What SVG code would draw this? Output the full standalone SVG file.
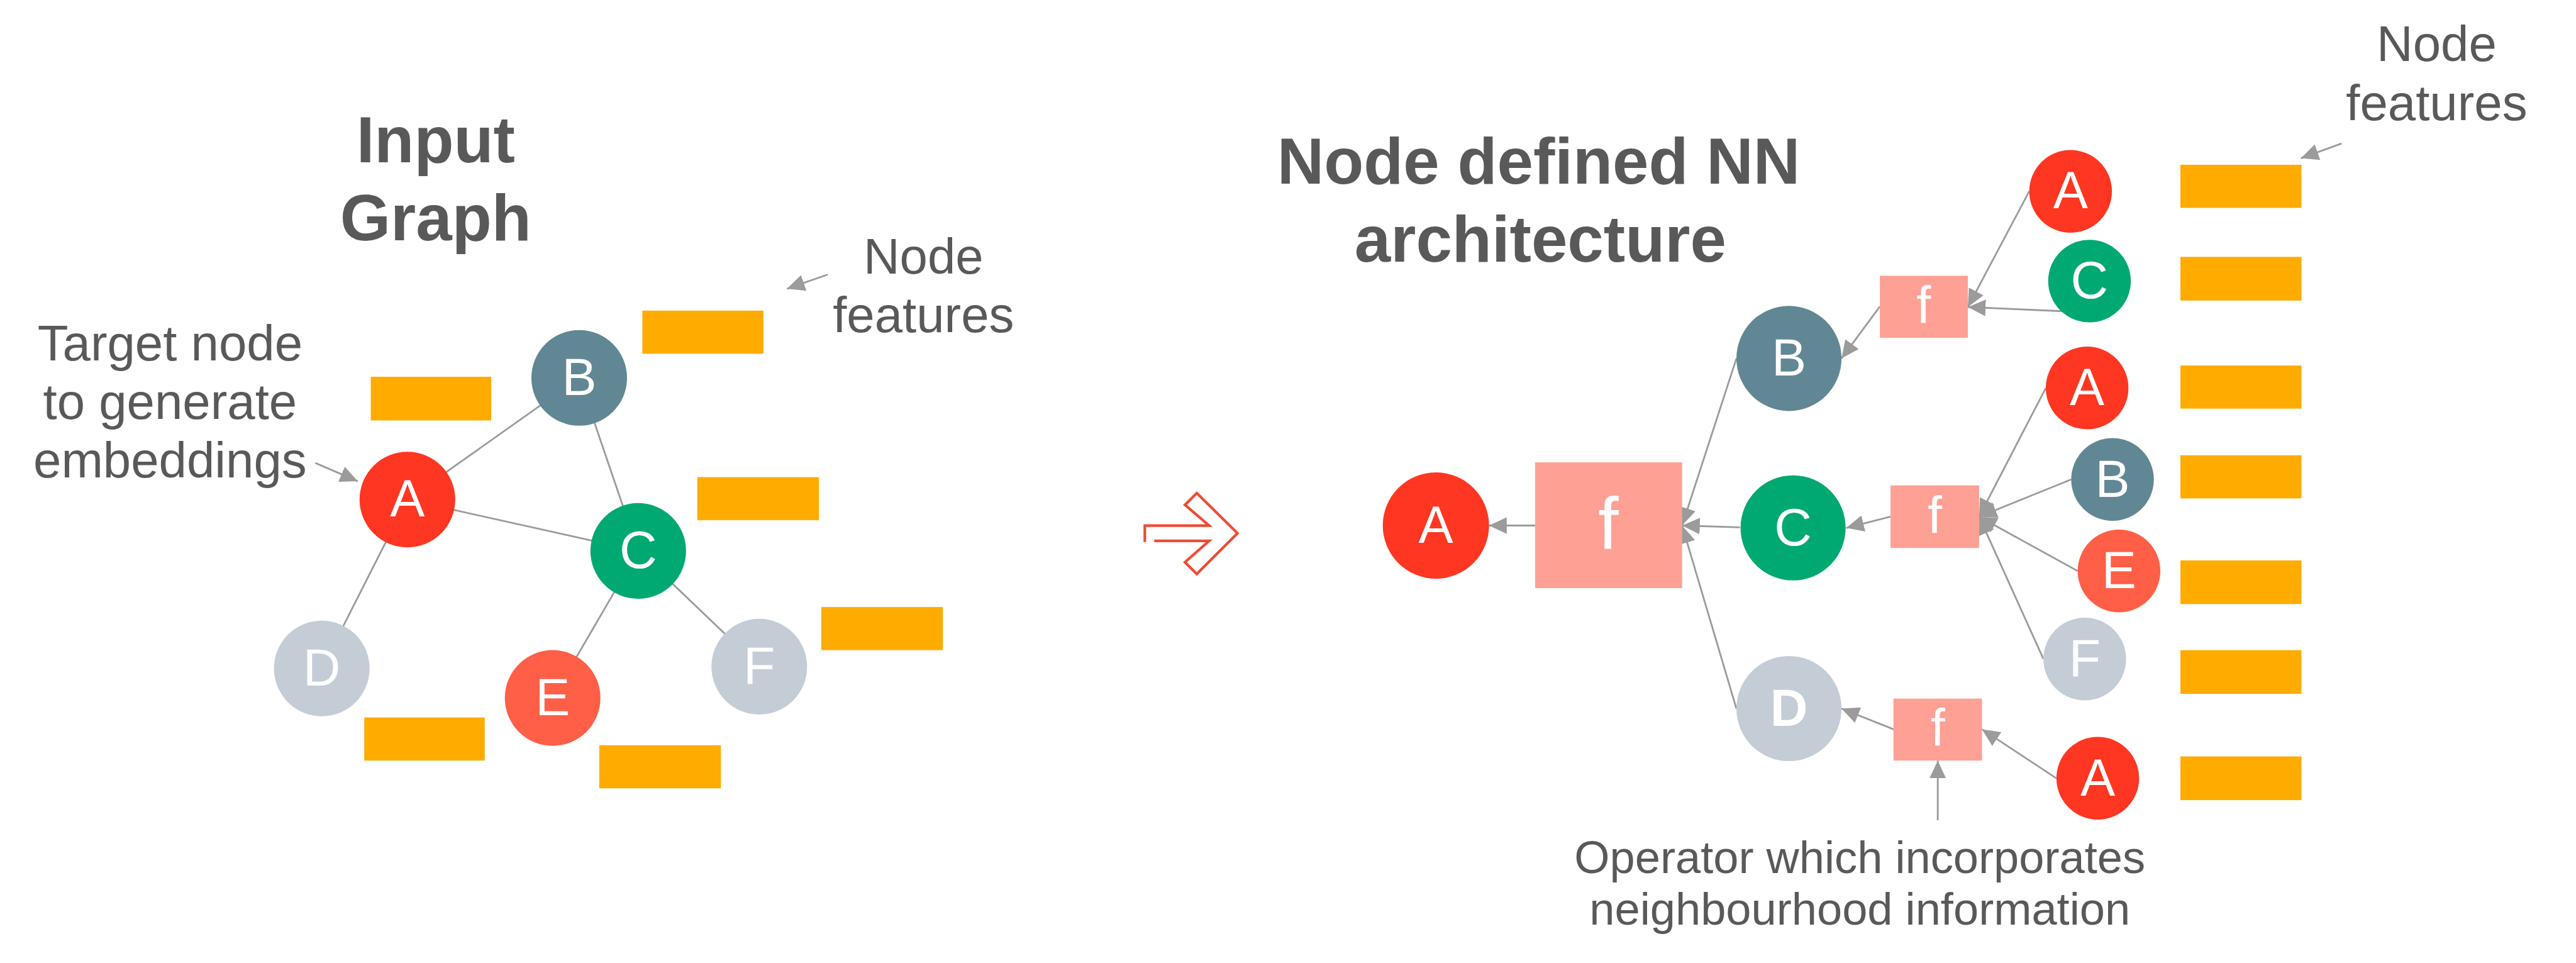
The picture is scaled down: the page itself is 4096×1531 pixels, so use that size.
<svg xmlns="http://www.w3.org/2000/svg" width="4096" height="1531" viewBox="0 0 4096 1531">
<style>
.t{font-family:"Liberation Sans",Arial,sans-serif;fill:#595959;text-anchor:middle}
.title{font-size:110px;font-weight:bold}
.lab{font-size:85px}
.lab2{font-size:77px}
.nl{font-family:"Liberation Sans",Arial,sans-serif;fill:#ffffff;text-anchor:middle;font-size:88px}
.edge{stroke:#9b9b9b;stroke-width:3;fill:none}
.arr{stroke:#9b9b9b;stroke-width:3;fill:none;marker-end:url(#ah)}
.feat{fill:#FFAB00}
.op{fill:#FFA094}
.cA{fill:#FF3621}
.cB{fill:#618794}
.cC{fill:#00A972}
.cD{fill:#C4CCD6}
.cE{fill:#FF5F46}
</style>
<defs>
<marker id="ah" markerUnits="userSpaceOnUse" markerWidth="30" markerHeight="28" viewBox="0 0 30 28" refX="30" refY="14" orient="auto">
<path d="M0,0 L30,14 L0,28 Z" fill="#9b9b9b"/>
</marker>
</defs>
<rect x="0" y="0" width="4096" height="1531" fill="#ffffff"/>
<g transform="scale(0.9388)">
<g id="labels">
<text class="t title" x="738" y="275">Input</text>
<text class="t title" x="738" y="407">Graph</text>
<text class="t title" x="2606" y="311">Node defined NN</text>
<text class="t title" x="2609" y="443">architecture</text>
<text class="t lab" x="288" y="610">Target node</text>
<text class="t lab" x="288" y="709">to generate</text>
<text class="t lab" x="288" y="808">embeddings</text>
<text class="t lab" x="1564" y="463">Node</text>
<text class="t lab" x="1564" y="562">features</text>
<text class="t lab" x="4127" y="103">Node</text>
<text class="t lab" x="4127" y="203">features</text>
<text class="t lab2" x="3150" y="1478">Operator which incorporates</text>
<text class="t lab2" x="3150" y="1566">neighbourhood information</text>
</g>
<g id="transition-arrow">
<path d="M1939,918 L1939,890 L2048,890 L2007,855 L2027,835 L2096,903 L2027,972 L2007,952 L2048,916 L1955,916" fill="none" stroke="#EE4B34" stroke-width="4.5" stroke-linejoin="miter"/>
</g>
<g id="connectors">
<line class="edge" x1="690" y1="846" x2="981" y2="640"/>
<line class="edge" x1="981" y1="640" x2="1081" y2="933"/>
<line class="edge" x1="690" y1="846" x2="1081" y2="933"/>
<line class="edge" x1="690" y1="846" x2="545" y2="1132"/>
<line class="edge" x1="1081" y1="933" x2="936" y2="1182"/>
<line class="edge" x1="1081" y1="933" x2="1286" y2="1129"/>
<line class="arr" x1="534" y1="784" x2="606" y2="815"/>
<line class="arr" x1="1402" y1="465" x2="1333" y2="489"/>
<line class="arr" x1="3966" y1="243" x2="3897" y2="268"/>
<line class="arr" x1="2600" y1="890" x2="2522" y2="890"/>
<line class="arr" x1="2941" y1="607" x2="2849" y2="890"/>
<line class="arr" x1="2947" y1="893" x2="2849" y2="890"/>
<line class="arr" x1="2941" y1="1200" x2="2849" y2="890"/>
<line class="arr" x1="3184" y1="519" x2="3119" y2="607"/>
<line class="arr" x1="3202" y1="875" x2="3127" y2="894"/>
<line class="arr" x1="3207" y1="1235" x2="3119" y2="1200"/>
<line class="arr" x1="3437" y1="324" x2="3333" y2="520"/>
<line class="arr" x1="3493" y1="527" x2="3333" y2="520"/>
<line class="arr" x1="3465" y1="657" x2="3352" y2="875"/>
<line class="arr" x1="3508" y1="812" x2="3352" y2="875"/>
<line class="arr" x1="3519" y1="967" x2="3352" y2="875"/>
<line class="arr" x1="3461" y1="1116" x2="3352" y2="875"/>
<line class="arr" x1="3483" y1="1318" x2="3357" y2="1235"/>
<line class="arr" x1="3282" y1="1389" x2="3282" y2="1288"/>
</g>
<g id="features-left">
<rect class="feat" x="1088" y="526" width="205" height="73"/>
<rect class="feat" x="628" y="638" width="204" height="74"/>
<rect class="feat" x="1181" y="808" width="206" height="73"/>
<rect class="feat" x="1391" y="1028" width="206" height="73"/>
<rect class="feat" x="617" y="1215" width="204" height="73"/>
<rect class="feat" x="1015" y="1262" width="206" height="73"/>
</g>
<g id="features-right">
<rect class="feat" x="3693" y="279" width="205" height="73"/>
<rect class="feat" x="3693" y="435" width="205" height="74"/>
<rect class="feat" x="3693" y="619" width="205" height="73"/>
<rect class="feat" x="3693" y="771" width="205" height="73"/>
<rect class="feat" x="3693" y="949" width="205" height="74"/>
<rect class="feat" x="3693" y="1101" width="205" height="74"/>
<rect class="feat" x="3693" y="1281" width="205" height="74"/>
</g>
<g id="in-A"><circle class="cA" cx="690" cy="846" r="81"/><text class="nl" x="690" y="875">A</text></g>
<g id="in-B"><circle class="cB" cx="981" cy="640" r="81"/><text class="nl" x="981" y="669">B</text></g>
<g id="in-C"><circle class="cC" cx="1081" cy="933" r="81"/><text class="nl" x="1081" y="962">C</text></g>
<g id="in-D"><circle class="cD" cx="545" cy="1132" r="81"/><text class="nl" x="545" y="1161">D</text></g>
<g id="in-E"><circle class="cE" cx="936" cy="1182" r="81"/><text class="nl" x="936" y="1211">E</text></g>
<g id="in-F"><circle class="cD" cx="1286" cy="1129" r="81"/><text class="nl" x="1286" y="1158">F</text></g>
<g id="nn-A"><circle class="cA" cx="2432" cy="890" r="90"/><text class="nl" x="2432" y="919">A</text></g>
<g id="nn-f0"><rect class="op" x="2600" y="783" width="249" height="213"/><text class="nl" x="2724" y="930" style="font-size:125px">f</text></g>
<g id="nn-B"><circle class="cB" cx="3030" cy="607" r="89"/><text class="nl" x="3030" y="636">B</text></g>
<g id="nn-C"><circle class="cC" cx="3037" cy="894" r="89"/><text class="nl" x="3037" y="923">C</text></g>
<g id="nn-D"><circle class="cD" cx="3030" cy="1200" r="89"/><text class="nl" x="3030" y="1229" style="font-weight:bold">D</text></g>
<g id="nn-f1"><rect class="op" x="3184" y="467" width="149" height="105"/><text class="nl" x="3258" y="547">f</text></g>
<g id="nn-f2"><rect class="op" x="3202" y="822" width="150" height="106"/><text class="nl" x="3277" y="903">f</text></g>
<g id="nn-f3"><rect class="op" x="3207" y="1183" width="150" height="105"/><text class="nl" x="3282" y="1263">f</text></g>
<g id="nn-A1"><circle class="cA" cx="3507" cy="324" r="70"/><text class="nl" x="3507" y="353">A</text></g>
<g id="nn-C1"><circle class="cC" cx="3539" cy="476" r="70"/><text class="nl" x="3539" y="505">C</text></g>
<g id="nn-A2"><circle class="cA" cx="3535" cy="657" r="70"/><text class="nl" x="3535" y="686">A</text></g>
<g id="nn-B2"><circle class="cB" cx="3578" cy="812" r="70"/><text class="nl" x="3578" y="841">B</text></g>
<g id="nn-E2"><circle class="cE" cx="3589" cy="967" r="70"/><text class="nl" x="3589" y="996">E</text></g>
<g id="nn-F2"><circle class="cD" cx="3531" cy="1116" r="70"/><text class="nl" x="3531" y="1145">F</text></g>
<g id="nn-A3"><circle class="cA" cx="3553" cy="1318" r="70"/><text class="nl" x="3553" y="1347">A</text></g>
</g>
</svg>
